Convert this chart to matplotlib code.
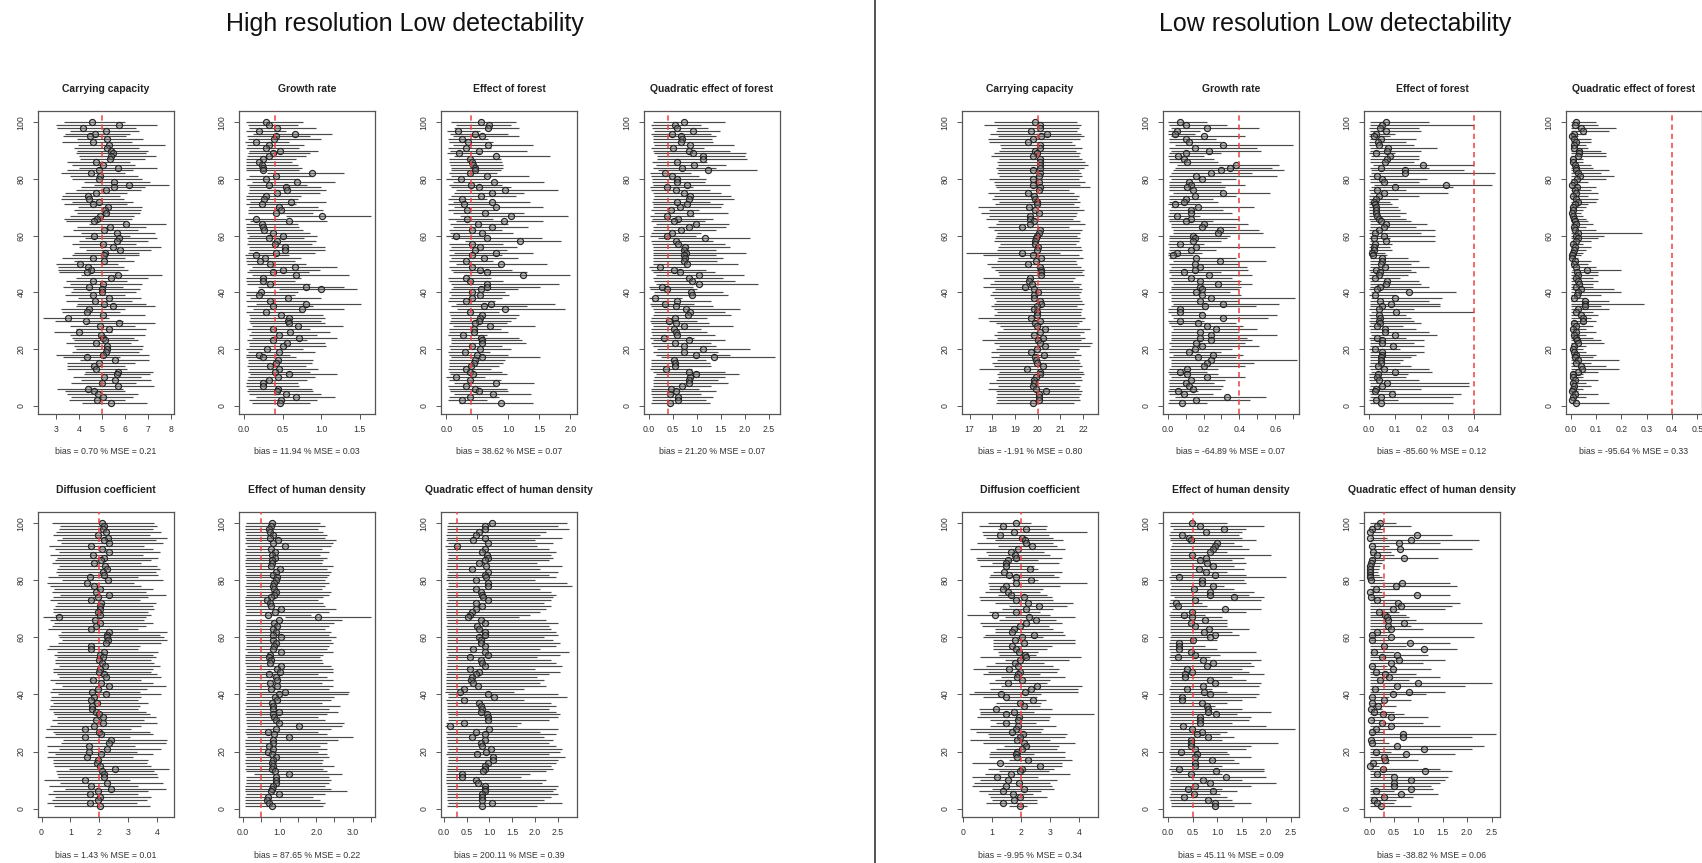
import numpy as np
import matplotlib.pyplot as plt
from matplotlib.lines import Line2D

plt.rcParams['font.family'] = ['Liberation Sans', 'DejaVu Sans']

W, H = 1702, 863          # output size in pixels
PW = 136                  # panel width in pixels

# every list below runs from the top row of a panel (run 100) down to run 1
runs = np.arange(100, 0, -1)

# ---------------- High resolution, low detectability ----------------
hr_cc_est = [
    4.55, 5.76, 4.19, 5.17, 4.71, 4.48, 5.22, 4.60, 5.32, 5.22,
    5.41, 5.47, 5.41, 5.35, 4.74, 5.03, 5.71, 4.89, 4.51, 4.91,
    4.89, 5.54, 6.19, 5.54, 5.17, 4.74, 4.41, 4.42, 4.89, 4.60,
    5.25, 5.15, 5.17, 4.91, 4.78, 4.67, 6.05, 5.35, 5.10, 5.65,
    4.67, 5.76, 5.65, 5.03, 5.49, 5.78, 5.13, 5.10, 4.62, 5.10,
    4.06, 4.41, 4.52, 4.35, 5.68, 5.39, 4.62, 5.03, 4.45, 4.99,
    5.00, 4.62, 5.29, 4.71, 5.10, 5.47, 4.45, 4.35, 5.03, 3.54,
    4.31, 5.76, 4.93, 5.29, 3.99, 4.97, 5.03, 5.15, 4.74, 5.20,
    5.20, 5.17, 5.03, 4.35, 5.55, 4.86, 4.65, 4.74, 5.70, 5.64,
    5.07, 5.55, 5.00, 5.70, 4.41, 4.67, 4.81, 5.03, 4.78, 5.41]
hr_cc_lo = [
    3.35, 3.00, 3.05, 3.60, 3.40, 3.30, 3.90, 3.25, 3.95, 3.80,
    3.90, 3.85, 4.00, 4.05, 3.50, 3.70, 4.00, 3.50, 3.20, 3.60,
    3.70, 4.20, 4.65, 4.10, 3.85, 3.40, 3.25, 3.20, 3.70, 3.35,
    3.95, 3.80, 3.90, 3.60, 3.35, 3.45, 4.45, 3.90, 3.75, 4.10,
    3.30, 4.25, 4.00, 3.70, 4.00, 4.30, 3.80, 3.70, 3.25, 3.80,
    3.00, 3.10, 3.10, 3.15, 4.10, 3.85, 3.45, 3.60, 3.30, 3.75,
    3.65, 3.40, 3.95, 3.45, 3.90, 3.85, 3.20, 3.25, 3.60, 2.45,
    2.95, 4.30, 3.60, 3.85, 2.90, 3.60, 3.70, 3.80, 3.45, 3.80,
    3.85, 3.70, 3.00, 3.30, 4.05, 3.50, 3.50, 3.50, 4.25, 4.20,
    3.75, 4.10, 3.65, 4.30, 3.05, 3.40, 3.50, 3.65, 3.55, 4.15]
hr_cc_up = [
    6.00, 7.38, 6.50, 6.60, 6.20, 6.05, 6.80, 6.30, 7.75, 6.60,
    7.00, 6.90, 7.35, 6.85, 6.20, 6.45, 7.40, 6.35, 6.00, 6.55,
    6.75, 7.10, 7.90, 6.85, 6.70, 6.10, 5.80, 5.95, 6.35, 6.10,
    6.75, 6.70, 6.65, 6.40, 6.30, 6.00, 7.80, 6.90, 6.55, 7.30,
    6.20, 7.40, 7.00, 6.50, 7.55, 7.15, 6.60, 6.60, 6.00, 6.40,
    5.70, 5.95, 6.15, 5.70, 7.60, 7.00, 6.10, 6.75, 5.90, 6.65,
    6.50, 6.00, 6.70, 6.30, 6.90, 7.30, 6.00, 5.80, 6.85, 5.30,
    5.90, 7.30, 6.45, 6.90, 5.45, 6.85, 6.40, 6.55, 6.25, 6.80,
    6.75, 6.60, 7.05, 5.80, 7.05, 6.45, 6.00, 6.10, 7.20, 7.10,
    6.70, 7.15, 6.50, 7.25, 5.90, 6.00, 6.55, 6.35, 6.00, 6.95]

hr_growth_est = [
    0.29, 0.32, 0.43, 0.20, 0.66, 0.41, 0.39, 0.16, 0.32, 0.28,
    0.47, 0.38, 0.33, 0.25, 0.20, 0.23, 0.25, 0.25, 0.88, 0.41,
    0.29, 0.69, 0.33, 0.55, 0.56, 0.43, 0.28, 0.26, 0.61, 0.23,
    0.45, 0.48, 0.41, 1.01, 0.16, 0.58, 0.23, 0.25, 0.26, 0.38,
    0.50, 0.32, 0.43, 0.40, 0.53, 0.53, 0.42, 0.16, 0.27, 0.21,
    0.34, 0.66, 0.50, 0.37, 0.67, 0.25, 0.24, 0.34, 0.81, 1.00,
    0.22, 0.20, 0.57, 0.34, 0.81, 0.38, 0.75, 0.29, 0.48, 0.58,
    0.57, 0.59, 0.70, 0.37, 0.60, 0.46, 0.71, 0.37, 0.56, 0.50,
    0.30, 0.45, 0.19, 0.24, 0.44, 0.42, 0.34, 0.46, 0.40, 0.58,
    0.44, 0.32, 0.25, 0.25, 0.44, 0.43, 0.55, 0.67, 0.48, 0.47]
hr_growth_lo = [
    0.03, 0.05, 0.06, 0.02, 0.12, 0.04, 0.05, 0.01, 0.04, 0.03,
    0.06, 0.05, 0.04, 0.03, 0.02, 0.02, 0.03, 0.03, 0.30, 0.06,
    0.03, 0.10, 0.04, 0.06, 0.07, 0.05, 0.03, 0.03, 0.08, 0.02,
    0.06, 0.05, 0.05, 0.55, 0.01, 0.08, 0.02, 0.03, 0.02, 0.04,
    0.07, 0.04, 0.05, 0.04, 0.06, 0.07, 0.05, 0.01, 0.03, 0.02,
    0.04, 0.10, 0.06, 0.04, 0.11, 0.03, 0.02, 0.04, 0.18, 0.45,
    0.02, 0.02, 0.08, 0.03, 0.15, 0.04, 0.12, 0.03, 0.06, 0.08,
    0.07, 0.08, 0.10, 0.04, 0.09, 0.06, 0.11, 0.04, 0.07, 0.06,
    0.03, 0.05, 0.02, 0.02, 0.05, 0.05, 0.04, 0.06, 0.05, 0.08,
    0.05, 0.04, 0.02, 0.03, 0.05, 0.04, 0.07, 0.15, 0.06, 0.10]
hr_growth_up = [
    0.76, 0.70, 0.94, 0.55, 1.14, 0.85, 1.00, 0.58, 0.78, 0.72,
    0.96, 0.86, 0.80, 0.68, 0.62, 0.70, 0.75, 0.72, 1.30, 0.88,
    0.72, 1.18, 0.82, 1.00, 1.06, 0.98, 0.74, 0.70, 1.07, 0.68,
    0.96, 1.02, 0.90, 1.65, 0.55, 1.08, 0.70, 0.72, 0.76, 0.86,
    0.95, 0.78, 0.94, 0.88, 1.05, 1.05, 0.92, 0.58, 0.74, 0.66,
    0.80, 1.21, 0.98, 0.84, 1.36, 0.74, 0.66, 0.86, 1.30, 1.47,
    0.70, 0.66, 1.00, 0.82, 1.52, 0.90, 1.30, 0.78, 1.02, 1.05,
    1.00, 1.05, 1.29, 0.86, 1.12, 0.95, 1.21, 0.82, 1.05, 1.06,
    0.76, 0.92, 0.60, 0.68, 0.90, 0.88, 0.80, 0.96, 0.86, 1.21,
    0.92, 0.82, 0.70, 0.72, 0.88, 0.90, 1.00, 1.18, 0.95, 0.85]

hr_forest_est = [
    0.56, 0.69, 0.67, 0.19, 0.47, 0.58, 0.25, 0.35, 0.67, 0.32,
    0.52, 0.20, 0.81, 0.39, 0.42, 0.43, 0.46, 0.46, 0.39, 0.66,
    0.23, 0.77, 0.40, 0.52, 0.95, 0.74, 0.56, 0.25, 0.73, 0.28,
    0.81, 0.34, 0.63, 1.04, 0.33, 0.93, 0.51, 0.74, 0.42, 0.58,
    0.15, 0.66, 1.19, 0.41, 0.55, 0.46, 0.80, 0.41, 0.61, 0.32,
    0.89, 0.41, 0.54, 0.66, 1.23, 0.31, 0.38, 0.65, 0.66, 0.56,
    0.41, 0.55, 0.41, 0.32, 0.72, 0.61, 0.94, 0.38, 0.57, 0.55,
    0.52, 0.47, 0.71, 0.44, 0.45, 0.27, 0.56, 0.58, 0.58, 0.42,
    0.54, 0.30, 0.50, 0.58, 0.46, 0.44, 0.40, 0.31, 0.38, 0.43,
    0.15, 0.39, 0.80, 0.31, 0.46, 0.52, 0.76, 0.38, 0.25, 0.89]
hr_forest_lo = [
    0.08, 0.15, 0.12, 0.01, 0.06, 0.10, 0.02, 0.04, 0.10, 0.03,
    0.06, 0.01, 0.12, 0.05, 0.05, 0.06, 0.08, 0.08, 0.04, 0.08,
    0.00, 0.10, 0.05, 0.07, 0.15, 0.12, 0.08, 0.02, 0.10, 0.03,
    0.12, 0.03, 0.10, 0.22, 0.03, 0.15, 0.06, 0.10, 0.05, 0.06,
    0.00, 0.08, 0.30, 0.04, 0.07, 0.05, 0.12, 0.05, 0.08, 0.04,
    0.15, 0.05, 0.07, 0.10, 0.28, 0.02, 0.04, 0.08, 0.10, 0.07,
    0.05, 0.08, 0.04, 0.03, 0.15, 0.08, 0.18, 0.04, 0.06, 0.07,
    0.06, 0.05, 0.10, 0.05, 0.05, 0.02, 0.08, 0.07, 0.08, 0.05,
    0.06, 0.03, 0.05, 0.07, 0.05, 0.04, 0.05, 0.03, 0.05, 0.06,
    0.00, 0.05, 0.12, 0.02, 0.05, 0.06, 0.12, 0.04, 0.02, 0.20]
hr_forest_up = [
    1.13, 1.05, 1.18, 0.55, 1.00, 1.18, 0.68, 0.75, 1.40, 0.72,
    1.30, 0.55, 1.68, 0.88, 0.90, 0.92, 0.92, 0.88, 0.82, 1.33,
    0.62, 1.58, 0.90, 1.05, 1.80, 1.25, 1.12, 0.66, 1.35, 0.72,
    1.56, 0.78, 1.25, 1.97, 0.75, 1.56, 1.00, 1.32, 0.90, 1.08,
    0.58, 1.55, 1.85, 0.92, 1.14, 0.98, 1.40, 0.90, 1.15, 0.75,
    1.62, 0.88, 1.06, 1.30, 2.00, 0.72, 0.92, 1.82, 1.52, 1.15,
    0.95, 1.02, 0.90, 0.78, 1.75, 1.30, 1.92, 0.85, 1.18, 1.12,
    1.05, 0.98, 1.43, 0.88, 1.00, 0.66, 1.18, 1.22, 1.28, 0.90,
    1.05, 0.70, 1.00, 1.52, 0.95, 0.92, 0.85, 0.72, 0.90, 0.98,
    0.62, 0.88, 1.42, 0.80, 0.98, 1.00, 1.36, 0.85, 0.66, 1.40]

hr_forest2_est = [
    0.74, 0.54, 0.59, 0.92, 0.48, 0.68, 0.69, 0.68, 0.87, 0.51,
    0.85, 0.93, 1.13, 1.13, 0.60, 0.95, 0.69, 1.23, 0.33, 0.48,
    0.59, 0.59, 0.80, 0.38, 0.56, 0.73, 0.87, 0.83, 0.60, 0.80,
    0.66, 0.46, 0.87, 0.38, 0.61, 0.53, 0.98, 0.83, 0.67, 0.48,
    0.38, 1.18, 0.56, 0.61, 0.76, 0.73, 0.78, 0.73, 0.76, 0.73,
    0.80, 0.24, 0.53, 0.66, 1.04, 0.84, 0.91, 1.05, 0.28, 0.38,
    0.88, 0.90, 0.14, 0.60, 0.33, 0.56, 0.78, 0.87, 0.81, 0.55,
    0.42, 0.57, 0.73, 0.52, 0.57, 0.60, 0.31, 0.83, 0.55, 0.73,
    1.14, 0.73, 0.99, 1.36, 0.53, 0.55, 0.55, 0.36, 0.83, 0.98,
    0.87, 0.84, 0.84, 0.69, 0.47, 0.56, 0.44, 0.61, 0.62, 0.44]
hr_forest2_lo = [
    0.10, 0.05, 0.06, 0.12, 0.04, 0.08, 0.08, 0.08, 0.12, 0.05,
    0.10, 0.12, 0.18, 0.18, 0.06, 0.15, 0.08, 0.20, 0.02, 0.04,
    0.06, 0.06, 0.10, 0.02, 0.05, 0.10, 0.12, 0.10, 0.06, 0.10,
    0.08, 0.04, 0.12, 0.02, 0.06, 0.05, 0.15, 0.10, 0.08, 0.04,
    0.02, 0.20, 0.05, 0.06, 0.10, 0.08, 0.10, 0.08, 0.10, 0.08,
    0.10, 0.00, 0.05, 0.08, 0.15, 0.10, 0.12, 0.15, 0.01, 0.02,
    0.12, 0.12, 0.00, 0.06, 0.02, 0.05, 0.10, 0.12, 0.10, 0.05,
    0.03, 0.05, 0.08, 0.04, 0.05, 0.06, 0.02, 0.10, 0.05, 0.08,
    0.18, 0.08, 0.15, 0.25, 0.05, 0.05, 0.05, 0.02, 0.10, 0.15,
    0.12, 0.10, 0.10, 0.08, 0.04, 0.05, 0.04, 0.06, 0.06, 0.04]
hr_forest2_up = [
    1.58, 1.10, 1.24, 1.48, 1.30, 1.40, 1.32, 1.35, 1.78, 1.15,
    1.70, 2.02, 2.00, 2.05, 1.22, 1.62, 1.40, 2.25, 0.88, 1.05,
    1.20, 1.18, 1.70, 0.92, 1.28, 1.50, 1.72, 1.77, 1.28, 1.55,
    1.50, 1.05, 1.65, 0.95, 1.35, 1.18, 1.68, 1.62, 1.40, 1.10,
    0.98, 2.12, 1.35, 1.58, 1.70, 1.40, 2.02, 1.40, 1.55, 1.42,
    1.85, 0.80, 1.20, 1.38, 1.98, 1.55, 1.80, 2.28, 0.92, 1.00,
    1.55, 1.65, 0.70, 1.30, 0.95, 1.35, 1.90, 1.60, 1.72, 1.22,
    1.00, 1.25, 1.75, 1.10, 1.22, 1.38, 0.95, 1.60, 1.30, 1.40,
    2.10, 1.45, 1.70, 2.63, 1.20, 1.28, 1.30, 0.90, 1.58, 1.88,
    1.60, 1.45, 1.65, 1.30, 1.05, 1.40, 1.10, 1.35, 1.20, 1.28]

hr_diff_est = [
    2.08, 2.16, 2.12, 2.23, 1.97, 2.31, 2.16, 2.35, 1.70, 2.08,
    2.33, 1.79, 2.16, 2.05, 1.80, 2.20, 2.25, 2.14, 2.18, 1.68,
    2.30, 1.58, 1.80, 2.02, 1.88, 2.32, 1.97, 1.72, 2.05, 2.02,
    2.03, 1.95, 2.01, 0.60, 1.85, 2.02, 1.88, 1.70, 2.35, 2.26,
    2.28, 2.30, 2.22, 1.72, 1.70, 2.18, 2.02, 2.12, 2.00, 2.10,
    2.20, 2.03, 2.00, 2.16, 2.22, 1.78, 2.05, 2.35, 1.95, 1.75,
    2.22, 1.80, 1.72, 1.93, 1.75, 1.73, 1.90, 1.98, 2.12, 1.87,
    2.14, 1.82, 1.52, 1.98, 2.05, 1.52, 2.42, 2.35, 1.63, 2.25,
    1.65, 2.05, 1.57, 1.96, 1.93, 2.02, 2.55, 2.10, 2.15, 2.18,
    1.50, 2.28, 1.70, 2.40, 1.97, 1.68, 2.02, 1.95, 1.68, 2.03]
hr_diff_lo = [
    0.35, 0.65, 0.60, 0.50, 0.38, 0.70, 0.52, 0.68, 0.25, 0.48,
    0.62, 0.30, 0.55, 0.45, 0.35, 0.60, 0.55, 0.50, 0.58, 0.22,
    0.70, 0.18, 0.30, 0.42, 0.35, 0.65, 0.40, 0.30, 0.52, 0.45,
    0.40, 0.38, 0.45, 0.05, 0.30, 0.42, 0.35, 0.22, 0.68, 0.58,
    0.60, 0.70, 0.58, 0.25, 0.20, 0.55, 0.42, 0.52, 0.45, 0.48,
    0.60, 0.40, 0.38, 0.55, 0.62, 0.28, 0.45, 0.70, 0.35, 0.30,
    0.58, 0.32, 0.28, 0.40, 0.30, 0.25, 0.38, 0.42, 0.55, 0.35,
    0.52, 0.30, 0.15, 0.40, 0.45, 0.12, 0.75, 0.68, 0.20, 0.60,
    0.22, 0.45, 0.18, 0.40, 0.38, 0.42, 0.95, 0.50, 0.55, 0.58,
    0.10, 0.65, 0.25, 0.80, 0.40, 0.22, 0.45, 0.35, 0.20, 0.42]
hr_diff_up = [
    3.90, 4.00, 3.85, 4.15, 3.75, 4.35, 3.95, 4.20, 3.55, 3.85,
    4.10, 3.50, 4.05, 3.80, 3.45, 4.00, 4.10, 3.95, 4.05, 3.35,
    4.20, 3.20, 3.45, 3.85, 3.60, 4.30, 3.70, 3.40, 3.95, 3.85,
    3.90, 3.70, 3.80, 3.60, 3.55, 3.85, 3.60, 3.35, 4.35, 4.10,
    4.25, 4.35, 4.15, 3.40, 3.35, 4.05, 3.85, 3.95, 3.80, 3.90,
    4.10, 3.85, 3.80, 4.00, 4.15, 3.45, 3.85, 4.30, 3.65, 3.40,
    4.15, 3.45, 3.35, 3.70, 3.40, 3.35, 3.60, 3.75, 3.95, 3.55,
    4.00, 3.45, 3.10, 3.75, 3.85, 3.05, 4.35, 4.30, 3.25, 4.15,
    3.30, 3.85, 3.15, 3.70, 3.65, 3.80, 4.40, 3.90, 4.00, 4.05,
    3.05, 4.20, 3.35, 4.30, 3.70, 3.35, 3.80, 3.65, 3.30, 3.75]

hr_human_est = [
    0.79, 0.77, 0.70, 0.73, 0.81, 0.74, 0.95, 0.81, 1.14, 0.76,
    0.87, 0.78, 0.88, 0.79, 0.79, 0.76, 1.00, 0.89, 0.81, 0.94,
    0.90, 0.86, 0.81, 0.85, 0.89, 0.85, 0.77, 0.66, 0.74, 0.77,
    1.04, 0.87, 0.68, 2.06, 0.99, 0.85, 0.92, 0.81, 0.89, 0.81,
    1.03, 0.83, 0.89, 0.86, 0.81, 1.05, 0.74, 0.70, 0.76, 0.73,
    1.03, 0.92, 1.00, 0.70, 0.89, 0.92, 0.73, 0.92, 0.77, 1.16,
    0.98, 0.87, 0.92, 0.79, 0.83, 0.81, 0.98, 0.81, 0.85, 0.89,
    0.98, 1.52, 0.90, 0.68, 0.85, 1.27, 0.83, 0.81, 0.70, 0.83,
    0.68, 0.79, 0.89, 0.81, 0.79, 0.83, 0.79, 0.87, 1.25, 0.89,
    0.90, 0.89, 0.81, 0.79, 0.76, 0.98, 0.68, 0.65, 0.70, 0.79]
hr_human_lo = [
    0.08, 0.06, 0.05, 0.06, 0.07, 0.05, 0.08, 0.06, 0.10, 0.06,
    0.07, 0.06, 0.08, 0.06, 0.06, 0.05, 0.09, 0.07, 0.06, 0.08,
    0.08, 0.07, 0.06, 0.07, 0.08, 0.07, 0.06, 0.05, 0.06, 0.06,
    0.09, 0.07, 0.05, 1.15, 0.08, 0.07, 0.08, 0.06, 0.07, 0.06,
    0.09, 0.07, 0.08, 0.07, 0.06, 0.10, 0.06, 0.05, 0.06, 0.05,
    0.09, 0.08, 0.09, 0.05, 0.07, 0.08, 0.06, 0.08, 0.06, 0.10,
    0.08, 0.07, 0.08, 0.06, 0.07, 0.06, 0.08, 0.06, 0.07, 0.07,
    0.08, 0.12, 0.07, 0.05, 0.07, 0.10, 0.06, 0.06, 0.05, 0.07,
    0.05, 0.06, 0.07, 0.06, 0.06, 0.07, 0.06, 0.07, 0.30, 0.07,
    0.07, 0.07, 0.06, 0.06, 0.05, 0.08, 0.05, 0.05, 0.05, 0.06]
hr_human_up = [
    2.10, 2.25, 2.05, 2.20, 2.30, 2.25, 2.55, 2.45, 2.40, 2.15,
    2.35, 2.10, 2.30, 2.20, 2.15, 2.45, 2.30, 2.40, 2.35, 2.30,
    2.25, 2.35, 2.25, 2.15, 2.40, 2.35, 2.20, 2.05, 2.20, 2.25,
    2.55, 2.35, 1.85, 3.50, 2.70, 2.50, 2.35, 2.25, 2.40, 2.35,
    2.55, 2.40, 2.45, 2.35, 2.30, 2.45, 2.20, 2.10, 2.15, 2.20,
    2.40, 2.45, 2.45, 2.05, 2.30, 2.45, 2.15, 2.45, 2.35, 2.90,
    2.88, 2.50, 2.40, 2.15, 2.65, 2.35, 2.60, 2.30, 2.05, 2.25,
    2.75, 2.70, 2.40, 2.05, 2.30, 3.00, 2.60, 2.30, 2.10, 2.30,
    2.05, 2.30, 2.35, 2.20, 2.15, 2.50, 2.20, 2.30, 2.70, 2.35,
    2.40, 2.35, 2.25, 2.40, 2.85, 2.25, 1.90, 2.10, 2.25, 2.20]

hr_human2_est = [
    1.05, 0.91, 0.90, 0.77, 0.70, 0.90, 0.64, 0.98, 0.28, 0.90,
    0.84, 0.94, 0.96, 0.90, 0.78, 0.93, 0.63, 0.98, 0.90, 0.93,
    0.71, 0.98, 0.98, 0.70, 0.81, 0.84, 0.87, 0.98, 0.70, 0.84,
    0.70, 0.61, 0.57, 0.53, 0.81, 0.90, 0.72, 0.78, 0.90, 0.91,
    0.78, 0.81, 0.81, 0.90, 0.64, 0.90, 0.96, 0.57, 0.81, 0.83,
    0.91, 0.57, 0.77, 0.70, 0.63, 0.59, 0.64, 0.74, 0.44, 0.35,
    0.96, 1.11, 0.44, 0.78, 0.81, 0.84, 0.81, 0.94, 0.96, 0.98,
    0.44, 0.13, 1.00, 0.71, 0.90, 0.61, 0.90, 0.81, 0.83, 1.03,
    0.93, 0.72, 1.07, 1.09, 0.96, 0.91, 0.90, 0.87, 0.41, 0.39,
    0.70, 0.74, 0.91, 0.91, 0.90, 0.84, 0.84, 0.83, 1.05, 0.83]
hr_human2_lo = [
    0.10, 0.08, 0.08, 0.07, 0.06, 0.08, 0.05, 0.09, 0.03, 0.08,
    0.07, 0.09, 0.09, 0.08, 0.07, 0.08, 0.05, 0.09, 0.08, 0.08,
    0.06, 0.09, 0.09, 0.06, 0.07, 0.07, 0.08, 0.09, 0.06, 0.07,
    0.06, 0.05, 0.05, 0.05, 0.07, 0.08, 0.06, 0.07, 0.08, 0.08,
    0.07, 0.07, 0.07, 0.08, 0.05, 0.08, 0.09, 0.05, 0.07, 0.07,
    0.08, 0.05, 0.07, 0.06, 0.05, 0.05, 0.05, 0.06, 0.04, 0.03,
    0.09, 0.10, 0.04, 0.07, 0.07, 0.07, 0.07, 0.09, 0.09, 0.09,
    0.04, 0.02, 0.09, 0.06, 0.08, 0.05, 0.08, 0.07, 0.07, 0.10,
    0.08, 0.06, 0.10, 0.10, 0.09, 0.08, 0.08, 0.08, 0.04, 0.04,
    0.06, 0.06, 0.08, 0.08, 0.08, 0.07, 0.07, 0.07, 0.10, 0.07]
hr_human2_up = [
    2.70, 2.50, 2.75, 2.25, 2.10, 2.60, 2.00, 2.40, 2.05, 2.30,
    2.45, 2.35, 2.40, 2.30, 2.05, 2.60, 2.10, 2.50, 2.30, 2.45,
    2.00, 2.70, 2.80, 2.10, 2.35, 2.45, 2.40, 2.35, 2.20, 2.35,
    2.25, 2.10, 1.90, 1.65, 2.25, 2.50, 2.30, 2.35, 2.45, 2.50,
    2.20, 2.40, 2.55, 2.45, 2.10, 2.75, 2.55, 2.05, 2.35, 2.45,
    2.60, 2.00, 2.55, 2.30, 2.05, 2.20, 2.10, 2.25, 1.75, 1.55,
    2.50, 2.70, 1.75, 2.35, 2.45, 2.30, 2.45, 2.55, 2.50, 2.30,
    1.70, 1.60, 2.50, 2.10, 2.45, 2.20, 2.40, 2.30, 2.45, 2.60,
    2.55, 2.30, 2.65, 2.50, 2.45, 2.35, 2.40, 2.25, 1.90, 1.70,
    2.25, 2.15, 2.50, 2.45, 2.40, 2.50, 2.35, 2.20, 2.60, 2.05]

# ---------------- Low resolution, low detectability ----------------
lr_cc_est = [
    19.86, 20.08, 20.08, 19.70, 20.40, 20.15, 19.79, 19.55, 20.08, 20.08,
    19.89, 19.99, 19.79, 20.11, 20.08, 20.08, 20.08, 19.79, 20.11, 20.05,
    19.79, 20.05, 19.79, 20.11, 20.05, 19.55, 19.83, 19.89, 19.96, 19.99,
    19.60, 19.86, 20.05, 19.64, 19.64, 19.82, 19.64, 19.30, 20.08, 20.04,
    19.99, 19.93, 19.86, 19.89, 20.01, 19.96, 19.30, 19.79, 20.15, 19.92,
    19.58, 20.11, 20.14, 20.14, 20.15, 19.64, 19.62, 19.74, 19.46, 19.84,
    20.02, 19.82, 19.84, 20.11, 20.15, 19.96, 19.82, 19.96, 19.96, 19.70,
    20.11, 19.89, 19.99, 20.33, 20.08, 19.82, 20.23, 20.02, 20.11, 20.33,
    19.96, 19.70, 20.26, 19.90, 19.93, 19.99, 20.23, 19.52, 20.08, 20.11,
    19.93, 19.84, 19.82, 19.79, 19.92, 20.36, 20.04, 20.04, 20.04, 19.79]
lr_cc_lo = [
    18.05, 17.65, 18.20, 18.15, 17.90, 18.25, 17.80, 17.85, 18.35, 18.40,
    18.30, 18.05, 17.95, 18.30, 18.20, 18.25, 18.15, 18.25, 18.20, 18.30,
    17.85, 18.05, 18.10, 18.15, 18.30, 17.80, 18.05, 18.00, 18.30, 18.10,
    17.35, 17.85, 17.50, 17.85, 17.70, 18.25, 18.15, 17.80, 18.05, 18.20,
    18.15, 18.10, 18.05, 18.35, 18.25, 18.20, 16.85, 17.60, 18.25, 18.20,
    17.75, 17.95, 18.10, 18.25, 18.30, 17.60, 18.05, 17.90, 17.60, 18.10,
    18.00, 17.90, 18.05, 18.15, 18.05, 17.95, 18.05, 18.20, 18.05, 17.35,
    17.85, 18.15, 18.35, 18.45, 18.20, 18.05, 18.20, 17.55, 18.05, 18.30,
    18.15, 17.95, 18.30, 17.95, 18.20, 18.00, 18.05, 17.40, 18.30, 18.20,
    18.25, 18.15, 17.85, 18.25, 17.80, 18.15, 18.20, 18.15, 18.20, 18.15]
lr_cc_up = [
    21.75, 21.90, 21.80, 21.75, 21.90, 22.05, 21.85, 21.50, 21.65, 21.95,
    21.70, 21.85, 21.80, 21.95, 22.10, 22.20, 22.05, 21.80, 21.90, 21.95,
    21.80, 22.10, 21.85, 22.30, 21.40, 21.60, 21.80, 21.75, 21.85, 21.60,
    21.80, 22.05, 21.75, 21.70, 21.55, 21.85, 22.10, 21.40, 21.95, 21.85,
    21.75, 21.85, 21.80, 21.70, 21.90, 21.95, 21.00, 21.80, 22.00, 21.70,
    21.75, 21.90, 22.05, 21.95, 22.05, 21.65, 21.55, 21.90, 21.80, 21.95,
    21.90, 21.80, 21.85, 21.95, 22.05, 21.75, 21.95, 21.90, 21.90, 22.10,
    21.95, 21.80, 21.75, 22.30, 22.05, 21.85, 22.10, 21.90, 22.40, 22.30,
    21.80, 21.70, 21.90, 21.60, 21.80, 21.85, 21.95, 21.80, 22.00, 22.05,
    21.90, 21.95, 21.65, 21.85, 21.80, 21.95, 21.90, 21.80, 21.85, 21.60]

lr_growth_est = [
    0.07, 0.10, 0.22, 0.05, 0.04, 0.20, 0.10, 0.12, 0.31, 0.15,
    0.23, 0.10, 0.06, 0.09, 0.11, 0.38, 0.35, 0.30, 0.24, 0.16,
    0.19, 0.12, 0.13, 0.11, 0.14, 0.31, 0.15, 0.10, 0.09, 0.04,
    0.17, 0.13, 0.13, 0.05, 0.13, 0.10, 0.20, 0.19, 0.29, 0.28,
    0.14, 0.15, 0.14, 0.07, 0.16, 0.13, 0.05, 0.03, 0.16, 0.29,
    0.15, 0.18, 0.15, 0.09, 0.23, 0.13, 0.18, 0.28, 0.18, 0.19,
    0.16, 0.19, 0.24, 0.18, 0.31, 0.21, 0.07, 0.07, 0.19, 0.31,
    0.07, 0.17, 0.22, 0.27, 0.18, 0.24, 0.18, 0.24, 0.16, 0.19,
    0.15, 0.12, 0.25, 0.17, 0.24, 0.22, 0.20, 0.11, 0.07, 0.11,
    0.22, 0.13, 0.10, 0.12, 0.14, 0.06, 0.09, 0.33, 0.16, 0.08]
lr_growth_lo = [
    0.00, 0.01, 0.02, 0.00, 0.00, 0.02, 0.01, 0.01, 0.04, 0.01,
    0.02, 0.01, 0.00, 0.01, 0.01, 0.05, 0.04, 0.03, 0.02, 0.01,
    0.02, 0.01, 0.01, 0.01, 0.01, 0.03, 0.01, 0.01, 0.01, 0.00,
    0.02, 0.01, 0.01, 0.00, 0.01, 0.01, 0.02, 0.02, 0.03, 0.03,
    0.01, 0.01, 0.01, 0.00, 0.01, 0.01, 0.00, 0.00, 0.01, 0.03,
    0.01, 0.02, 0.01, 0.01, 0.02, 0.01, 0.02, 0.03, 0.02, 0.02,
    0.01, 0.02, 0.02, 0.02, 0.03, 0.02, 0.00, 0.00, 0.02, 0.03,
    0.00, 0.01, 0.02, 0.03, 0.02, 0.02, 0.02, 0.02, 0.01, 0.02,
    0.01, 0.01, 0.03, 0.01, 0.02, 0.02, 0.02, 0.01, 0.00, 0.01,
    0.02, 0.01, 0.01, 0.01, 0.01, 0.00, 0.01, 0.04, 0.01, 0.00]
lr_growth_up = [
    0.22, 0.33, 0.51, 0.18, 0.15, 0.43, 0.27, 0.30, 0.70, 0.50,
    0.52, 0.30, 0.20, 0.26, 0.28, 0.62, 0.58, 0.65, 0.47, 0.61,
    0.38, 0.30, 0.43, 0.32, 0.31, 0.57, 0.38, 0.25, 0.28, 0.16,
    0.48, 0.31, 0.36, 0.18, 0.40, 0.25, 0.45, 0.38, 0.51, 0.53,
    0.35, 0.33, 0.30, 0.20, 0.60, 0.27, 0.19, 0.14, 0.38, 0.55,
    0.40, 0.44, 0.45, 0.30, 0.47, 0.36, 0.41, 0.47, 0.41, 0.40,
    0.35, 0.41, 0.71, 0.40, 0.62, 0.49, 0.22, 0.20, 0.61, 0.56,
    0.20, 0.38, 0.42, 0.50, 0.40, 0.61, 0.44, 0.47, 0.43, 0.51,
    0.36, 0.30, 0.42, 0.38, 0.72, 0.48, 0.43, 0.28, 0.22, 0.28,
    0.43, 0.32, 0.26, 0.31, 0.30, 0.17, 0.25, 0.55, 0.46, 0.22]

lr_forest_est = [
    0.064, 0.052, 0.042, 0.064, 0.029, 0.019, 0.045, 0.035, 0.039, 0.073,
    0.069, 0.027, 0.080, 0.069, 0.061, 0.206, 0.048, 0.136, 0.138, 0.032,
    0.052, 0.058, 0.294, 0.098, 0.032, 0.058, 0.038, 0.027, 0.019, 0.023,
    0.027, 0.027, 0.029, 0.032, 0.039, 0.045, 0.064, 0.057, 0.038, 0.023,
    0.058, 0.019, 0.064, 0.023, 0.019, 0.019, 0.014, 0.016, 0.052, 0.052,
    0.045, 0.061, 0.029, 0.042, 0.038, 0.023, 0.069, 0.067, 0.044, 0.033,
    0.153, 0.023, 0.101, 0.044, 0.086, 0.052, 0.039, 0.105, 0.039, 0.042,
    0.039, 0.044, 0.033, 0.061, 0.061, 0.098, 0.033, 0.052, 0.052, 0.092,
    0.023, 0.052, 0.052, 0.045, 0.048, 0.045, 0.035, 0.057, 0.098, 0.035,
    0.033, 0.038, 0.069, 0.052, 0.027, 0.023, 0.088, 0.048, 0.029, 0.048]
lr_forest_lo = [
    0.006, 0.004, 0.002, 0.005, 0.001, 0.001, 0.003, 0.002, 0.002, 0.006,
    0.005, 0.001, 0.007, 0.005, 0.004, 0.015, 0.003, 0.010, 0.008, 0.002,
    0.004, 0.004, 0.020, 0.007, 0.002, 0.004, 0.002, 0.001, 0.001, 0.001,
    0.001, 0.001, 0.002, 0.002, 0.002, 0.003, 0.005, 0.004, 0.002, 0.001,
    0.004, 0.001, 0.005, 0.001, 0.001, 0.001, 0.001, 0.001, 0.004, 0.004,
    0.003, 0.004, 0.002, 0.003, 0.002, 0.001, 0.005, 0.005, 0.003, 0.002,
    0.010, 0.001, 0.007, 0.003, 0.006, 0.004, 0.002, 0.008, 0.002, 0.003,
    0.002, 0.003, 0.002, 0.004, 0.004, 0.007, 0.002, 0.004, 0.004, 0.006,
    0.001, 0.004, 0.004, 0.003, 0.003, 0.003, 0.002, 0.004, 0.007, 0.002,
    0.002, 0.002, 0.005, 0.004, 0.001, 0.001, 0.006, 0.003, 0.001, 0.003]
lr_forest_up = [
    0.23, 0.40, 0.19, 0.20, 0.10, 0.08, 0.18, 0.14, 0.17, 0.26,
    0.20, 0.10, 0.19, 0.19, 0.17, 0.40, 0.23, 0.36, 0.48, 0.13,
    0.22, 0.19, 0.47, 0.32, 0.14, 0.30, 0.19, 0.11, 0.08, 0.09,
    0.11, 0.12, 0.14, 0.12, 0.14, 0.16, 0.22, 0.18, 0.25, 0.20,
    0.25, 0.08, 0.25, 0.09, 0.08, 0.09, 0.06, 0.07, 0.15, 0.19,
    0.16, 0.23, 0.16, 0.18, 0.15, 0.12, 0.19, 0.20, 0.23, 0.15,
    0.33, 0.10, 0.28, 0.23, 0.27, 0.27, 0.17, 0.40, 0.14, 0.16,
    0.17, 0.20, 0.13, 0.18, 0.23, 0.26, 0.14, 0.21, 0.17, 0.21,
    0.12, 0.21, 0.18, 0.16, 0.13, 0.12, 0.16, 0.23, 0.24, 0.15,
    0.14, 0.19, 0.38, 0.38, 0.20, 0.10, 0.35, 0.32, 0.11, 0.32]

lr_forest2_est = [
    0.020, 0.018, 0.042, 0.048, 0.012, 0.005, 0.015, 0.022, 0.012, 0.015,
    0.032, 0.035, 0.028, 0.010, 0.008, 0.018, 0.020, 0.022, 0.030, 0.038,
    0.025, 0.012, 0.004, 0.026, 0.018, 0.022, 0.010, 0.020, 0.028, 0.018,
    0.010, 0.008, 0.005, 0.009, 0.012, 0.016, 0.022, 0.012, 0.018, 0.028,
    0.020, 0.030, 0.022, 0.010, 0.018, 0.012, 0.008, 0.006, 0.004, 0.016,
    0.012, 0.020, 0.065, 0.024, 0.030, 0.020, 0.028, 0.032, 0.020, 0.040,
    0.030, 0.024, 0.012, 0.055, 0.056, 0.056, 0.030, 0.022, 0.040, 0.048,
    0.050, 0.012, 0.020, 0.010, 0.022, 0.012, 0.020, 0.024, 0.030, 0.012,
    0.008, 0.012, 0.020, 0.018, 0.030, 0.020, 0.042, 0.045, 0.028, 0.010,
    0.010, 0.018, 0.008, 0.015, 0.010, 0.006, 0.018, 0.010, 0.005, 0.022]
lr_forest2_lo = [
    0.002, 0.001, 0.003, 0.003, 0.001, 0.000, 0.001, 0.002, 0.001, 0.001,
    0.002, 0.002, 0.002, 0.001, 0.000, 0.001, 0.001, 0.002, 0.002, 0.003,
    0.002, 0.001, 0.000, 0.002, 0.001, 0.002, 0.001, 0.001, 0.002, 0.001,
    0.001, 0.000, 0.000, 0.001, 0.001, 0.001, 0.002, 0.001, 0.001, 0.002,
    0.001, 0.002, 0.002, 0.001, 0.001, 0.001, 0.000, 0.000, 0.000, 0.001,
    0.001, 0.001, 0.004, 0.002, 0.002, 0.001, 0.002, 0.002, 0.001, 0.003,
    0.002, 0.002, 0.001, 0.003, 0.003, 0.003, 0.002, 0.002, 0.003, 0.003,
    0.003, 0.001, 0.001, 0.001, 0.002, 0.001, 0.001, 0.002, 0.002, 0.001,
    0.000, 0.001, 0.001, 0.001, 0.002, 0.001, 0.003, 0.003, 0.002, 0.001,
    0.001, 0.001, 0.000, 0.001, 0.001, 0.000, 0.001, 0.001, 0.000, 0.002]
lr_forest2_up = [
    0.10, 0.11, 0.18, 0.15, 0.06, 0.03, 0.08, 0.08, 0.06, 0.07,
    0.12, 0.14, 0.14, 0.05, 0.05, 0.08, 0.09, 0.15, 0.12, 0.17,
    0.14, 0.07, 0.03, 0.10, 0.08, 0.11, 0.07, 0.11, 0.10, 0.07,
    0.06, 0.05, 0.04, 0.05, 0.06, 0.07, 0.09, 0.06, 0.10, 0.28,
    0.13, 0.11, 0.08, 0.05, 0.08, 0.06, 0.05, 0.04, 0.03, 0.08,
    0.07, 0.10, 0.20, 0.11, 0.11, 0.09, 0.11, 0.09, 0.09, 0.17,
    0.20, 0.12, 0.06, 0.15, 0.29, 0.12, 0.15, 0.09, 0.11, 0.08,
    0.10, 0.06, 0.09, 0.06, 0.10, 0.06, 0.09, 0.12, 0.13, 0.06,
    0.05, 0.06, 0.10, 0.09, 0.19, 0.08, 0.14, 0.19, 0.11, 0.05,
    0.05, 0.11, 0.06, 0.08, 0.05, 0.03, 0.11, 0.06, 0.03, 0.15]

lr_diff_est = [
    1.82, 1.38, 2.18, 1.76, 1.27, 2.05, 2.14, 2.18, 2.37, 1.89,
    1.64, 1.79, 1.82, 1.56, 1.50, 1.47, 2.30, 1.41, 1.60, 1.82,
    2.33, 1.82, 1.50, 1.38, 1.56, 1.67, 2.11, 1.82, 2.23, 2.62,
    2.18, 1.82, 1.12, 2.28, 2.52, 2.18, 1.96, 1.75, 1.70, 2.44,
    2.05, 1.79, 2.11, 1.70, 1.82, 1.93, 2.15, 2.18, 1.96, 1.79,
    1.89, 1.60, 1.96, 1.89, 1.85, 2.04, 1.56, 2.55, 2.33, 2.14,
    1.31, 1.47, 2.43, 1.96, 2.11, 1.13, 1.75, 1.47, 1.93, 1.89,
    1.47, 1.89, 1.82, 1.70, 2.08, 1.96, 1.85, 2.11, 2.18, 2.04,
    1.85, 1.82, 1.85, 2.25, 1.28, 2.66, 2.04, 1.96, 1.67, 1.16,
    1.56, 1.93, 1.48, 2.11, 1.38, 1.73, 1.96, 1.75, 1.38, 1.96]
lr_diff_lo = [
    0.85, 0.55, 1.20, 0.65, 0.70, 0.80, 1.10, 0.50, 1.20, 0.25,
    0.80, 0.85, 0.45, 0.50, 1.00, 0.60, 1.45, 1.05, 0.95, 0.90,
    1.70, 0.85, 0.90, 0.90, 0.75, 1.20, 0.55, 0.60, 1.10, 1.60,
    1.35, 0.90, 0.15, 1.45, 1.25, 0.60, 0.65, 1.10, 1.10, 0.75,
    0.70, 1.05, 1.05, 1.05, 1.05, 1.20, 1.25, 0.60, 1.45, 1.10,
    0.80, 0.35, 0.85, 0.70, 1.30, 1.10, 0.90, 1.30, 0.95, 0.40,
    0.20, 0.70, 1.45, 1.15, 1.25, 0.55, 0.60, 0.60, 0.50, 0.95,
    1.15, 0.95, 0.25, 0.45, 0.85, 0.90, 0.25, 0.70, 1.40, 1.15,
    0.95, 0.90, 0.90, 1.60, 0.30, 1.40, 0.85, 1.25, 0.75, 0.30,
    0.60, 0.40, 0.30, 1.00, 0.55, 0.85, 0.95, 1.00, 0.80, 1.60]
lr_diff_up = [
    2.35, 2.90, 2.85, 4.28, 2.95, 3.10, 3.45, 3.10, 3.25, 3.50,
    2.80, 3.00, 3.40, 2.60, 3.30, 2.45, 2.60, 3.40, 3.15, 3.30,
    2.60, 4.28, 3.35, 2.75, 2.65, 2.90, 3.05, 3.10, 3.80, 3.60,
    3.10, 2.65, 3.00, 3.85, 3.20, 3.40, 2.95, 3.10, 3.45, 3.50,
    2.75, 3.85, 3.85, 3.05, 2.90, 2.60, 2.50, 4.05, 3.65, 2.80,
    3.10, 3.30, 3.25, 2.65, 3.50, 3.00, 2.90, 4.10, 3.95, 3.95,
    2.70, 2.55, 2.85, 2.70, 2.65, 3.05, 2.45, 4.50, 3.00, 2.95,
    2.50, 3.20, 2.75, 2.70, 3.60, 3.50, 3.00, 3.85, 3.30, 3.25,
    3.50, 2.45, 3.50, 3.75, 3.40, 3.40, 3.15, 2.95, 3.70, 2.60,
    3.25, 3.00, 3.05, 3.15, 2.70, 2.40, 2.90, 2.55, 2.55, 2.20]

lr_human_est = [
    0.49, 0.65, 1.15, 0.78, 0.28, 0.43, 0.46, 0.99, 0.95, 0.91,
    0.86, 0.49, 0.78, 0.65, 0.80, 0.91, 0.63, 0.78, 0.95, 0.23,
    0.69, 0.69, 0.92, 0.52, 0.86, 0.86, 1.34, 0.56, 0.17, 0.20,
    1.16, 0.49, 0.32, 0.49, 0.75, 0.46, 0.54, 0.84, 0.73, 0.95,
    0.86, 0.50, 0.22, 0.22, 0.22, 0.47, 0.54, 0.20, 0.72, 0.91,
    0.80, 0.39, 0.49, 0.34, 0.34, 0.86, 0.95, 0.72, 0.39, 0.73,
    0.86, 0.28, 0.28, 0.69, 0.80, 0.82, 0.82, 0.97, 0.66, 0.66,
    0.66, 0.30, 0.49, 0.69, 0.60, 0.82, 0.47, 0.46, 0.46, 0.56,
    0.26, 0.60, 0.56, 0.89, 0.54, 0.54, 0.22, 0.97, 0.47, 1.18,
    0.72, 0.86, 0.54, 0.41, 0.91, 0.52, 0.32, 0.82, 0.95, 0.95]
lr_human_lo = [
    0.05, 0.03, 0.10, 0.05, 0.02, 0.03, 0.03, 0.08, 0.06, 0.05,
    0.05, 0.03, 0.05, 0.04, 0.05, 0.06, 0.04, 0.05, 0.06, 0.01,
    0.04, 0.04, 0.06, 0.03, 0.05, 0.05, 0.12, 0.03, 0.01, 0.01,
    0.08, 0.03, 0.02, 0.03, 0.05, 0.03, 0.03, 0.05, 0.04, 0.06,
    0.05, 0.03, 0.01, 0.01, 0.01, 0.03, 0.03, 0.01, 0.04, 0.06,
    0.05, 0.02, 0.03, 0.02, 0.02, 0.05, 0.06, 0.04, 0.02, 0.04,
    0.05, 0.02, 0.02, 0.04, 0.05, 0.05, 0.05, 0.06, 0.04, 0.04,
    0.04, 0.02, 0.03, 0.04, 0.04, 0.05, 0.03, 0.03, 0.03, 0.03,
    0.02, 0.04, 0.03, 0.05, 0.03, 0.03, 0.01, 0.06, 0.03, 0.08,
    0.04, 0.05, 0.03, 0.02, 0.06, 0.03, 0.02, 0.05, 0.06, 0.06]
lr_human_up = [
    1.20, 1.95, 1.60, 1.50, 1.45, 1.50, 1.80, 1.35, 1.50, 1.65,
    1.20, 2.10, 1.55, 1.30, 1.60, 1.35, 1.55, 1.20, 1.60, 2.40,
    1.55, 1.60, 1.15, 1.35, 1.75, 1.65, 1.95, 1.90, 0.70, 0.80,
    1.90, 1.60, 0.75, 1.10, 1.20, 1.20, 1.20, 1.65, 1.30, 1.45,
    0.85, 1.00, 0.55, 0.75, 1.00, 1.80, 1.05, 0.85, 1.90, 1.70,
    1.75, 1.50, 1.65, 1.95, 1.30, 1.60, 1.90, 1.85, 0.90, 1.20,
    1.85, 1.80, 1.50, 1.20, 0.95, 1.50, 2.10, 1.40, 1.70, 1.65,
    1.30, 2.00, 2.60, 1.20, 1.05, 1.35, 1.10, 2.25, 1.70, 1.60,
    1.20, 1.25, 1.70, 1.35, 1.45, 1.10, 1.95, 1.95, 1.10, 2.00,
    1.50, 2.20, 1.70, 1.10, 1.40, 1.05, 1.20, 1.30, 1.70, 1.35]

lr_human2_est = [
    0.22, 0.15, 0.06, 0.02, 0.98, 0.02, 0.85, 0.60, 0.06, 0.63,
    0.08, 0.15, 0.71, 0.06, 0.04, 0.02, 0.02, 0.02, 0.02, 0.02,
    0.04, 0.67, 0.54, 0.13, 0.02, 0.98, 0.04, 0.15, 0.58, 0.65,
    0.48, 0.19, 0.32, 0.35, 0.37, 0.70, 0.37, 0.44, 0.15, 0.06,
    0.45, 0.06, 0.82, 0.30, 1.11, 0.10, 0.57, 0.25, 0.61, 0.45,
    0.06, 0.48, 0.13, 0.32, 0.39, 0.22, 1.00, 0.57, 0.12, 0.80,
    0.48, 0.06, 0.30, 0.06, 0.17, 0.04, 0.10, 0.28, 0.44, 0.04,
    0.26, 0.45, 0.13, 0.06, 0.69, 0.69, 0.04, 0.06, 0.57, 1.11,
    0.13, 0.74, 0.30, 0.32, 0.08, 0.02, 0.28, 1.13, 0.15, 0.51,
    0.86, 0.51, 0.51, 0.86, 0.13, 0.65, 0.30, 0.10, 0.15, 0.24]
lr_human2_lo = [
    0.01, 0.00, 0.00, 0.00, 0.02, 0.00, 0.02, 0.01, 0.00, 0.01,
    0.00, 0.00, 0.01, 0.00, 0.00, 0.00, 0.00, 0.00, 0.00, 0.00,
    0.00, 0.01, 0.01, 0.00, 0.00, 0.02, 0.00, 0.00, 0.01, 0.01,
    0.01, 0.00, 0.01, 0.01, 0.01, 0.01, 0.01, 0.01, 0.00, 0.00,
    0.01, 0.00, 0.02, 0.01, 0.02, 0.00, 0.01, 0.00, 0.01, 0.01,
    0.00, 0.01, 0.00, 0.01, 0.01, 0.00, 0.02, 0.01, 0.00, 0.02,
    0.01, 0.00, 0.01, 0.00, 0.00, 0.00, 0.00, 0.01, 0.01, 0.00,
    0.01, 0.01, 0.00, 0.00, 0.01, 0.01, 0.00, 0.00, 0.01, 0.02,
    0.00, 0.01, 0.01, 0.01, 0.00, 0.00, 0.01, 0.02, 0.00, 0.01,
    0.02, 0.01, 0.01, 0.02, 0.00, 0.01, 0.01, 0.00, 0.00, 0.01]
lr_human2_up = [
    0.55, 0.85, 0.30, 0.25, 1.70, 0.35, 2.25, 1.45, 0.40, 2.10,
    0.45, 0.50, 1.40, 0.30, 0.25, 0.22, 0.20, 0.18, 0.20, 0.25,
    0.30, 1.65, 1.80, 0.60, 0.25, 1.65, 0.30, 0.55, 1.85, 1.70,
    1.55, 0.60, 0.75, 0.80, 0.95, 2.30, 0.85, 1.10, 0.45, 0.35,
    2.15, 0.40, 1.65, 0.75, 1.80, 0.50, 1.20, 0.65, 1.55, 1.10,
    0.35, 1.25, 0.55, 0.95, 1.45, 0.80, 2.50, 1.95, 0.50, 1.55,
    1.15, 0.40, 0.85, 0.30, 0.55, 0.25, 0.50, 0.70, 1.20, 0.30,
    1.10, 1.45, 0.45, 0.30, 2.60, 2.10, 0.30, 0.40, 2.35, 2.10,
    0.45, 1.75, 0.75, 1.00, 0.40, 0.20, 1.45, 1.70, 0.55, 1.60,
    1.55, 1.45, 1.25, 1.30, 0.50, 1.40, 0.90, 0.55, 0.50, 0.85]

# titles, true values and the bias / MSE notes
titles = ['Carrying capacity', 'Growth rate', 'Effect of forest',
          'Quadratic effect of forest', 'Diffusion coefficient',
          'Effect of human density', 'Quadratic effect of human density']
true_values = [5, 0.4, 0.4, 0.4, 2, 0.5, 0.3]
true_values_lr = [20, 0.4, 0.4, 0.4, 2, 0.5, 0.3]
hr_notes = ['bias = 0.70 % MSE = 0.21', 'bias = 11.94 % MSE = 0.03',
            'bias = 38.62 % MSE = 0.07', 'bias = 21.20 % MSE = 0.07',
            'bias = 1.43 % MSE = 0.01', 'bias = 87.65 % MSE = 0.22',
            'bias = 200.11 % MSE = 0.39']
lr_notes = ['bias = -1.91 % MSE = 0.80', 'bias = -64.89 % MSE = 0.07',
            'bias = -85.60 % MSE = 0.12', 'bias = -95.64 % MSE = 0.33',
            'bias = -9.95 % MSE = 0.34', 'bias = 45.11 % MSE = 0.09',
            'bias = -38.82 % MSE = 0.06']

# x axis ticks and labels (R drops the labels that would overlap)
hr_ticks = [[3, 4, 5, 6, 7, 8], [0, 0.5, 1.0, 1.5], [0, 0.5, 1.0, 1.5, 2.0],
            [0, 0.5, 1.0, 1.5, 2.0, 2.5], [0, 1, 2, 3, 4],
            [0, 0.5, 1.0, 1.5, 2.0, 2.5, 3.0, 3.5], [0, 0.5, 1.0, 1.5, 2.0, 2.5]]
hr_labels = [['3', '4', '5', '6', '7', '8'], ['0.0', '0.5', '1.0', '1.5'],
             ['0.0', '0.5', '1.0', '1.5', '2.0'],
             ['0.0', '0.5', '1.0', '1.5', '2.0', '2.5'], ['0', '1', '2', '3', '4'],
             ['0.0', '', '1.0', '', '2.0', '', '3.0', ''],
             ['0.0', '0.5', '1.0', '1.5', '2.0', '2.5']]
lr_ticks = [[17, 18, 19, 20, 21, 22], [0, 0.1, 0.2, 0.3, 0.4, 0.5, 0.6, 0.7],
            [0, 0.1, 0.2, 0.3, 0.4], [0, 0.1, 0.2, 0.3, 0.4, 0.5], [0, 1, 2, 3, 4],
            [0, 0.5, 1.0, 1.5, 2.0, 2.5], [0, 0.5, 1.0, 1.5, 2.0, 2.5]]
lr_labels = [['17', '18', '19', '20', '21', '22'],
             ['0.0', '', '0.2', '', '0.4', '', '0.6', ''],
             ['0.0', '0.1', '0.2', '0.3', '0.4'],
             ['0.0', '0.1', '0.2', '0.3', '0.4', '0.5'], ['0', '1', '2', '3', '4'],
             ['0.0', '0.5', '1.0', '1.5', '2.0', '2.5'],
             ['0.0', '0.5', '1.0', '1.5', '2.0', '2.5']]
hr_xlims = [(2.22, 8.13), (-0.065, 1.70), (-0.086, 2.11), (-0.097, 2.735),
            (-0.123, 4.587), (-0.108, 3.607), (-0.06, 2.92)]
lr_xlims = [(16.66, 22.66), (-0.026, 0.732), (-0.018, 0.4985), (-0.018, 0.518),
            (-0.03, 4.65), (-0.103, 2.672), (-0.113, 2.674)]

hr_data = [(hr_cc_est, hr_cc_lo, hr_cc_up), (hr_growth_est, hr_growth_lo, hr_growth_up),
           (hr_forest_est, hr_forest_lo, hr_forest_up),
           (hr_forest2_est, hr_forest2_lo, hr_forest2_up),
           (hr_diff_est, hr_diff_lo, hr_diff_up), (hr_human_est, hr_human_lo, hr_human_up),
           (hr_human2_est, hr_human2_lo, hr_human2_up)]
lr_data = [(lr_cc_est, lr_cc_lo, lr_cc_up), (lr_growth_est, lr_growth_lo, lr_growth_up),
           (lr_forest_est, lr_forest_lo, lr_forest_up),
           (lr_forest2_est, lr_forest2_lo, lr_forest2_up),
           (lr_diff_est, lr_diff_lo, lr_diff_up), (lr_human_est, lr_human_lo, lr_human_up),
           (lr_human2_est, lr_human2_lo, lr_human2_up)]

# panel grid in pixels
hr_cols = [38, 239, 441, 644]
lr_cols = [962, 1163, 1364, 1566]
row_tops = [111, 512]
row_heights = [303, 305]


def draw_panel(fig, x0, y0, h, title, data, truth, xlim, ticks, labels, note):
    est, lo, up = data
    ax = fig.add_axes([x0 / W, 1 - (y0 + h) / H, PW / W, h / H])
    ax.hlines(runs, lo, up, color='#4a4a4a', lw=0.85, zorder=2)
    ax.plot(est, runs, 'o', ms=4.4, mfc=(0.45, 0.45, 0.45, 0.45), mec='#262626',
            mew=0.85, zorder=3)
    ax.axvline(truth, color='#f04040', lw=1.1, ls=(0, (3.5, 2.5)), zorder=4)
    ax.set_xlim(xlim)
    ax.set_ylim(-2.96, 103.96)
    ax.set_xticks(ticks)
    ax.set_xticklabels(labels)
    ax.set_yticks(range(0, 101, 20))
    ax.set_yticklabels([str(v) for v in range(0, 101, 20)], rotation=90, va='center')
    ax.tick_params(direction='out', length=3.5, width=0.7, color='#555555',
                   labelsize=6.3, labelcolor='#333333')
    ax.tick_params(axis='x', pad=4.5)
    ax.tick_params(axis='y', pad=5.5)
    for s in ax.spines.values():
        s.set_color('#555555')
        s.set_linewidth(0.9)
    xc = (x0 + PW / 2) / W
    fig.text(xc, 1 - (y0 - 22) / H, title, ha='center', va='center',
             fontsize=7.5, fontweight='bold', color='#222222')
    fig.text(xc, 1 - (y0 + h + 38) / H, note, ha='center', va='center',
             fontsize=6.3, color='#333333')


fig = plt.figure(figsize=(W / 100, H / 100), dpi=100)

for cols, data, truths, xlims, ticks, labels, notes in [
        (hr_cols, hr_data, true_values, hr_xlims, hr_ticks, hr_labels, hr_notes),
        (lr_cols, lr_data, true_values_lr, lr_xlims, lr_ticks, lr_labels, lr_notes)]:
    for i in range(7):
        r = 0 if i < 4 else 1
        c = i if i < 4 else i - 4
        draw_panel(fig, cols[c], row_tops[r], row_heights[r], titles[i], data[i],
                   truths[i], xlims[i], ticks[i], labels[i], notes[i])

fig.text(405 / W, 1 - 24 / H, 'High resolution Low detectability',
         ha='center', va='center', fontsize=18, color='#111111')
fig.text(1335 / W, 1 - 24 / H, 'Low resolution Low detectability',
         ha='center', va='center', fontsize=18, color='#111111')
fig.add_artist(Line2D([875 / W, 875 / W], [0, 1], color='#444444', lw=1.3))

fig.savefig('out.png', dpi=100)
